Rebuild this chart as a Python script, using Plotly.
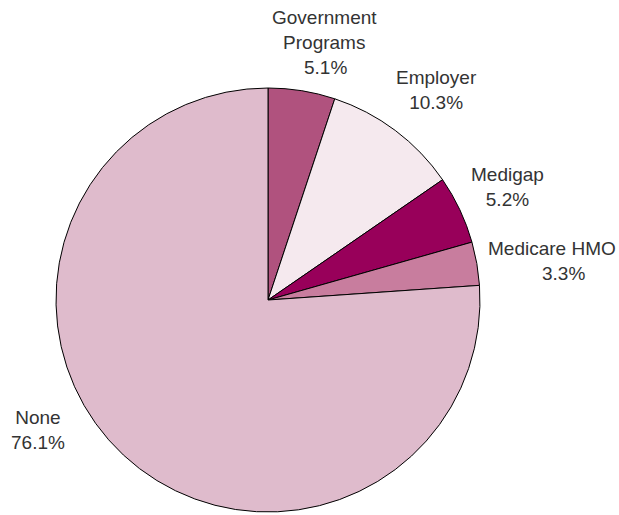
import plotly.graph_objects as go

categories = ["Government Programs", "Employer", "Medigap", "Medicare HMO", "None"]
values = [5.1, 10.3, 5.2, 3.3, 76.1]
colors = ["#b0527e", "#f5e9ee", "#98005a", "#c87d9e", "#dfbbcc"]
label_texts = ["Government<br>Programs", "5.1%", "Employer<br>10.3%", "Medigap<br>5.2%",
               "Medicare HMO", "3.3%", "None<br>76.1%"]
label_pos = [(324, 30), (325, 68), (436, 90), (507, 187), (552, 249), (563, 273), (38, 430)]

W, H = 619, 515
fig = go.Figure(go.Pie(
    labels=categories, values=values, sort=False, direction="clockwise", rotation=0,
    marker=dict(colors=colors, line=dict(color="#000000", width=1)),
    textinfo="none", hoverinfo="label+percent", showlegend=False,
    domain=dict(x=[56 / W, 480 / W], y=[(H - 512) / H, (H - 88) / H]),
))
for t, (x, y) in zip(label_texts, label_pos):
    fig.add_annotation(text=t, x=x / W, y=1 - y / H, xref="paper", yref="paper",
                       showarrow=False, xanchor="center", yanchor="middle",
                       font=dict(family="Liberation Sans, Arial", size=19, color="#333333"))
fig.update_layout(width=W, height=H, margin=dict(l=0, r=0, t=0, b=0),
                  paper_bgcolor="white", plot_bgcolor="white")
fig.write_html("out.html")
